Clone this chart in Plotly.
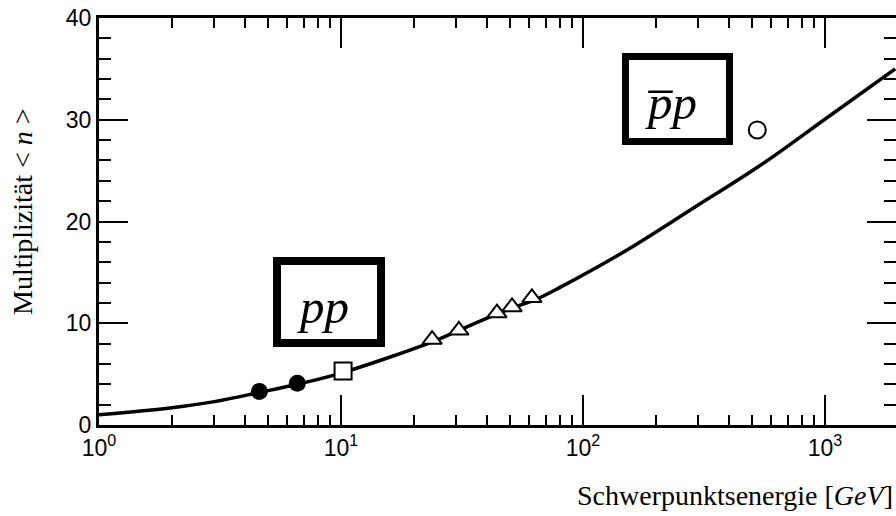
import numpy as np
import plotly.graph_objects as go

# Fit curve: energy [GeV] -> multiplicity
curve_E = [1.0, 2.0, 3.0, 4.6, 6.6, 10, 24, 30, 45, 66, 80, 152, 285, 539, 1019, 1950]
curve_n = [1.0, 1.7, 2.3, 3.2, 4.0, 5.1, 8.2, 9.2, 11.0, 12.5, 13.5, 17.2, 21.3, 25.5, 30.2, 35.0]

# pp data
pp_filled_E = [4.6, 6.6]
pp_filled_n = [3.3, 4.1]
pp_square_E = [10.2]
pp_square_n = [5.3]
pp_tri_E = [23.8, 30.7, 44.1, 50.9, 61.5]
pp_tri_n = [8.4, 9.3, 11.0, 11.6, 12.5]
# pbar-p data
ppbar_E = [525]
ppbar_n = [29.0]

x_tickvals = [1, 10, 100, 1000]
x_ticktext = ["10<sup>0</sup>", "10<sup>1</sup>", "10<sup>2</sup>", "10<sup>3</sup>"]
x_minor_vals = [m * 10 ** k for k in range(4) for m in range(2, 10)]
y_tickvals = [0, 10, 20, 30, 40]

fig = go.Figure()
fig.add_trace(go.Scatter(x=curve_E, y=curve_n, mode="lines",
                         line=dict(color="black", width=3.5, shape="spline"),
                         showlegend=False, hoverinfo="skip"))
fig.add_trace(go.Scatter(x=pp_filled_E, y=pp_filled_n, mode="markers",
                         marker=dict(symbol="circle", size=17, color="black"),
                         showlegend=False))
fig.add_trace(go.Scatter(x=pp_square_E, y=pp_square_n, mode="markers",
                         marker=dict(symbol="square", size=17, color="white",
                                     line=dict(color="black", width=2)),
                         showlegend=False))
fig.add_trace(go.Scatter(x=pp_tri_E, y=pp_tri_n, mode="markers",
                         marker=dict(symbol="triangle-up", size=17, color="white",
                                     line=dict(color="black", width=2)),
                         showlegend=False))
fig.add_trace(go.Scatter(x=ppbar_E, y=ppbar_n, mode="markers",
                         marker=dict(symbol="circle", size=17, color="white",
                                     line=dict(color="black", width=2)),
                         showlegend=False))

# plot-area edges in the browser window
L, R, T, B = 99, 896, 18, 425
FIG_W, FIG_H = 896, 516
W, H = R - L, B - T

def px(x):
    return (x - L) / W

def py(y):
    return (B - y) / H

fig.add_shape(type="rect", xref="paper", yref="paper",
              x0=px(277), x1=px(381), y0=py(343), y1=py(261),
              line=dict(color="black", width=8), fillcolor="white")
fig.add_shape(type="rect", xref="paper", yref="paper",
              x0=px(625.5), x1=px(729.5), y0=py(141.5), y1=py(56.5),
              line=dict(color="black", width=7), fillcolor="white")

serif = "Liberation Serif"
fig.add_annotation(xref="paper", yref="paper", x=px(323), y=py(306),
                   xanchor="center", yanchor="middle",
                   text="<i>pp</i>", showarrow=False,
                   font=dict(family=serif, size=49, color="black"))
fig.add_annotation(xref="paper", yref="paper", x=px(671), y=py(102),
                   xanchor="center", yanchor="middle",
                   text="<i>p\u0305p</i>", showarrow=False,
                   font=dict(family=serif, size=49, color="black"))

fig.add_annotation(xref="paper", yref="paper", x=px(23), y=py(212),
                   xanchor="center", yanchor="middle",
                   text="Multiplizität &lt; <i>n</i> &gt;", textangle=-90,
                   showarrow=False, font=dict(family=serif, size=28, color="black"))
fig.add_annotation(xref="paper", yref="paper", x=px(895), y=py(495),
                   xanchor="right", yanchor="middle",
                   text="Schwerpunktsenergie [<i>GeV</i>]",
                   showarrow=False, font=dict(family=serif, size=28, color="black"))

fig.update_xaxes(type="log", range=[0, (R - L) / 242.0],
                 tickvals=x_tickvals, ticktext=x_ticktext,
                 ticks="inside", ticklen=30, tickwidth=2, tickcolor="black",
                 minor=dict(ticks="inside", ticklen=10, tickwidth=2, tickcolor="black",
                            tickmode="array", tickvals=x_minor_vals, showgrid=False),
                 showline=True, linecolor="black", linewidth=3, mirror="ticks",
                 showgrid=False, zeroline=False, automargin=False,
                 ticklabeloverflow="allow",
                 tickfont=dict(family="Liberation Sans", size=23, color="black"))
fig.update_yaxes(range=[0, 40], tickvals=y_tickvals,
                 ticks="inside", ticklen=29, tickwidth=2, tickcolor="black",
                 minor=dict(ticks="inside", ticklen=12, tickwidth=2, tickcolor="black",
                            dtick=2, showgrid=False),
                 showline=True, linecolor="black", linewidth=3, mirror="ticks",
                 showgrid=False, zeroline=False, automargin=False,
                 ticklabeloverflow="allow",
                 tickfont=dict(family="Liberation Sans", size=23, color="black"))

fig.update_layout(width=FIG_W, height=FIG_H,
                  margin=dict(l=L, r=FIG_W - R, t=T, b=FIG_H - B),
                  paper_bgcolor="white", plot_bgcolor="white")

fig.write_html("out.html", config={"displayModeBar": False, "responsive": False},
               post_script="document.documentElement.style.overflow='hidden';"
                           "document.body.style.overflow='hidden';"
                           "document.body.style.margin='0';")
